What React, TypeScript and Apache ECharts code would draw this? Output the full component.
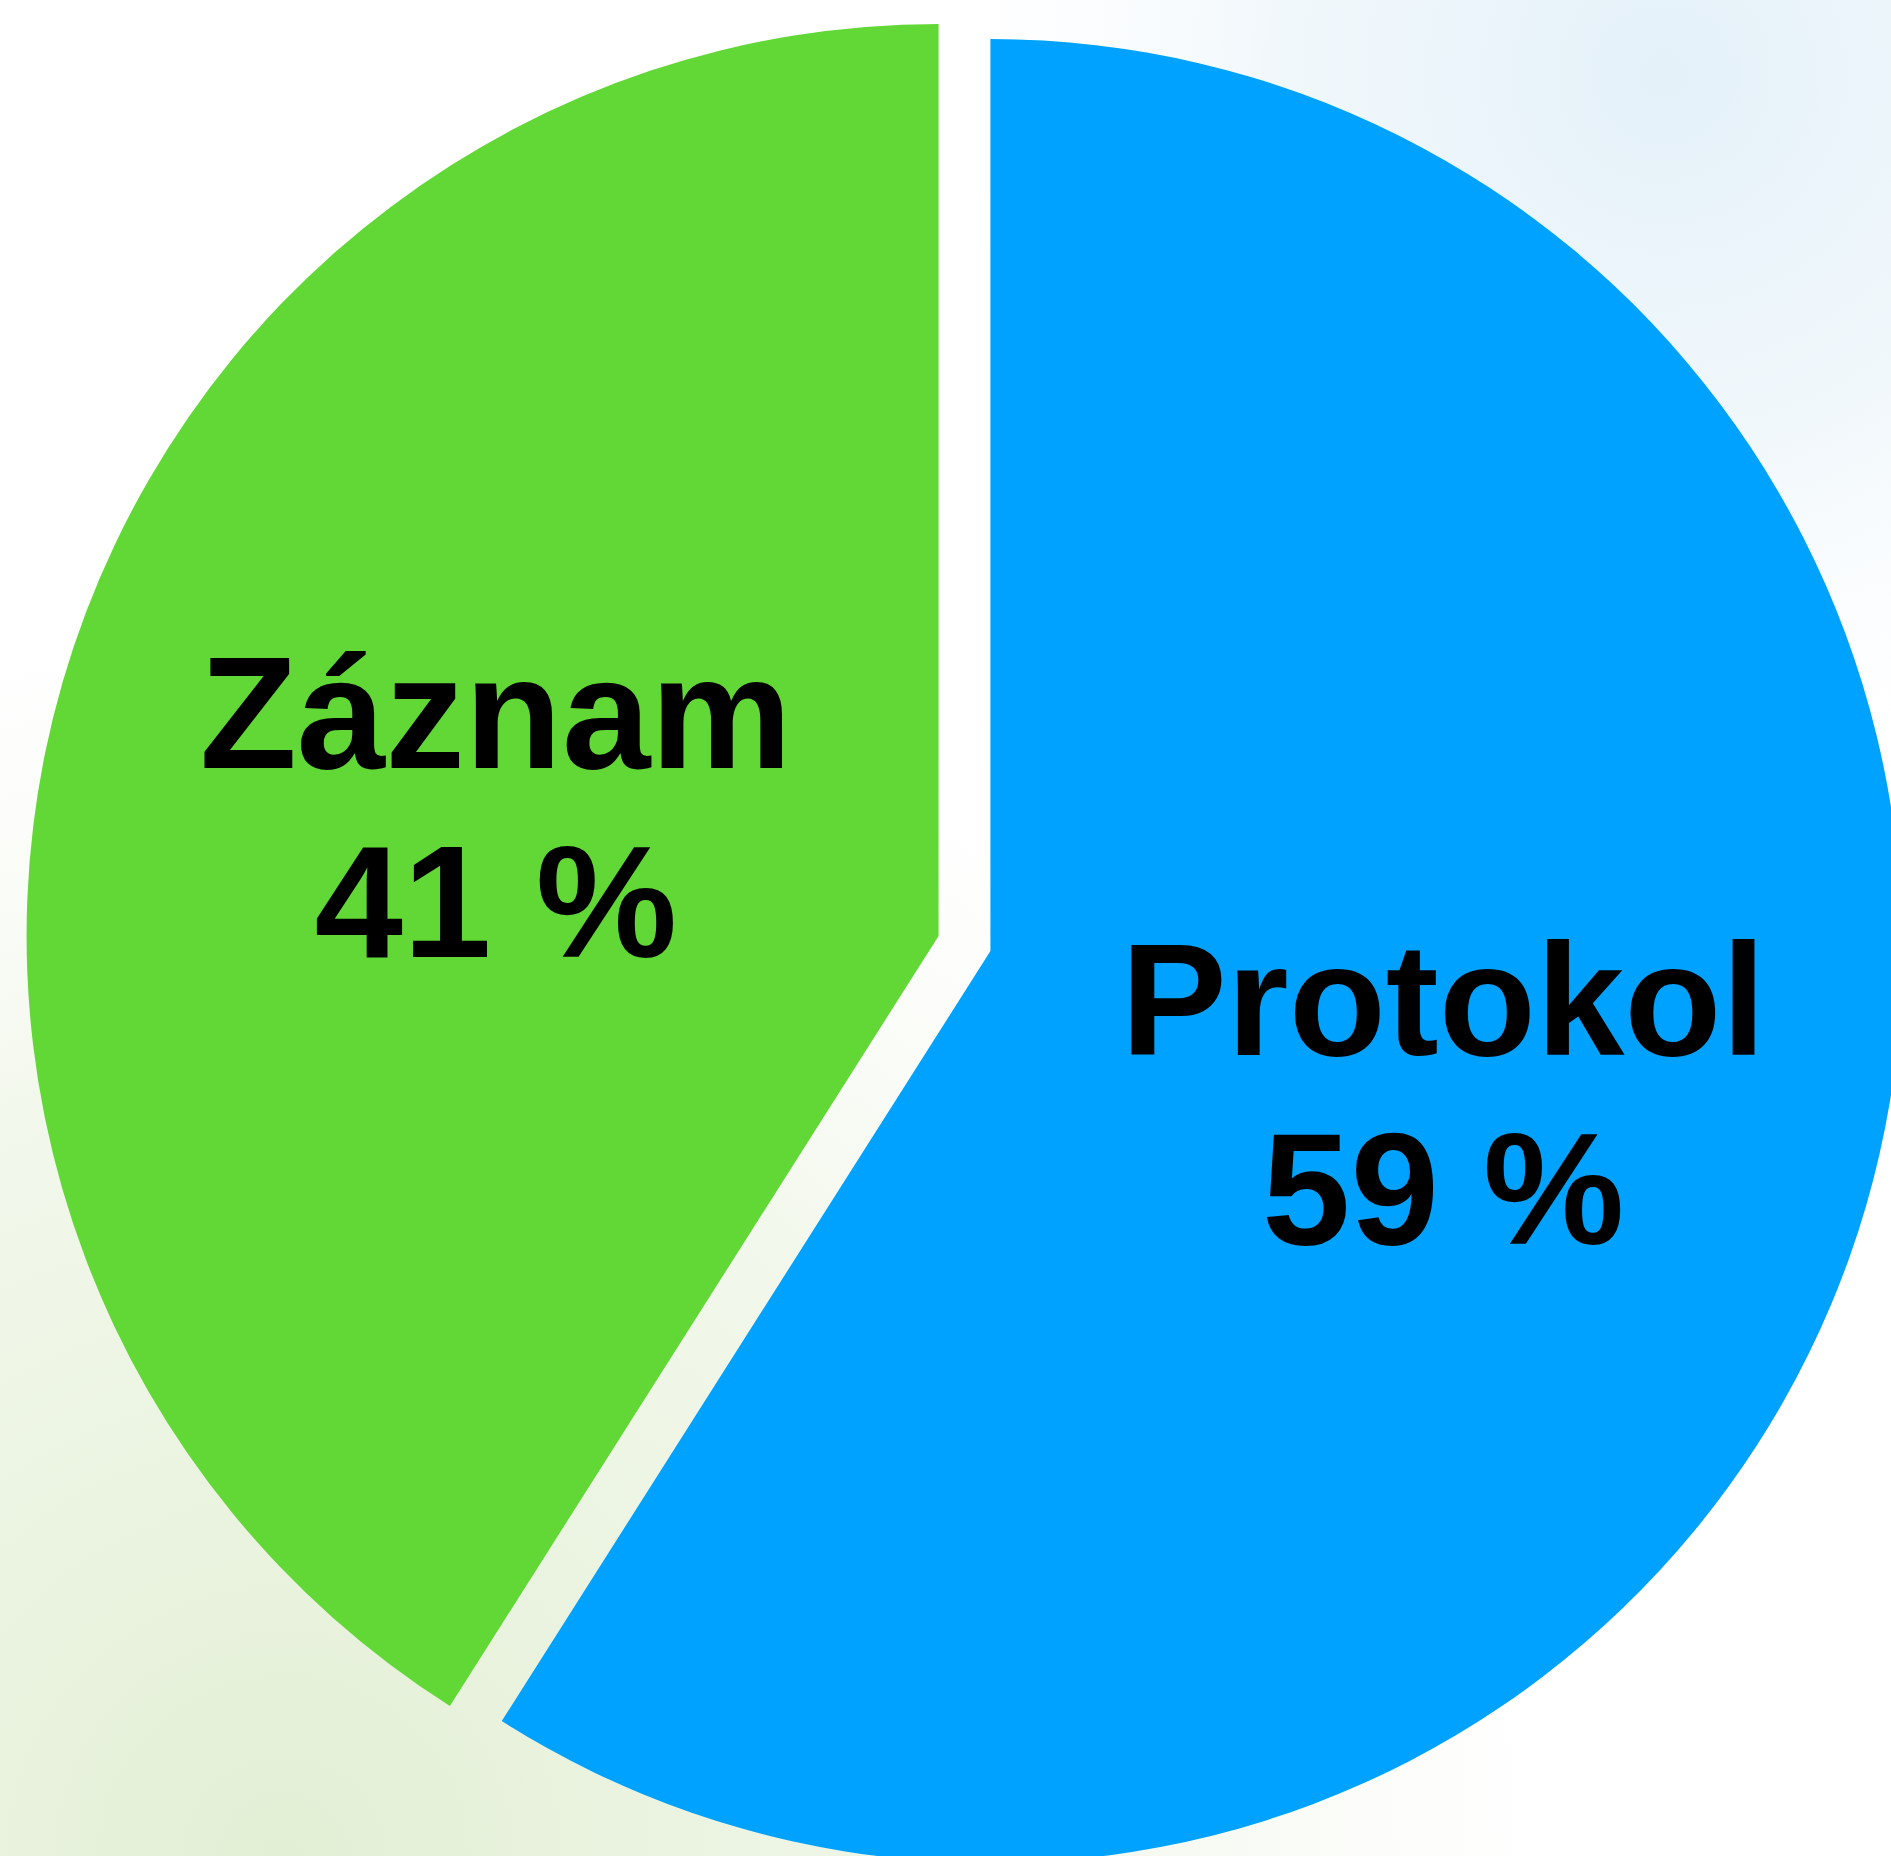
import React, { useEffect, useRef } from "react";
import * as echarts from "echarts";

const categories = ["Protokol", "Záznam"];
const values = [59, 41];
const colors = ["#00A2FF", "#62D836"];
const labelFormatters = ["{s| }\n{b}\n{c} %", "{b}\n{c} %"];
const labelPaddings = [[0, 0, 0, 24], [0, 4, 0, 0]];

export default function App() {
  const ref = useRef<HTMLDivElement>(null);
  useEffect(() => {
    if (!ref.current) return;
    const chart = echarts.init(ref.current, null, { renderer: "svg" });
    chart.setOption({
      animation: false,
      backgroundColor: "#ffffff",
      graphic: [
        {
          type: "rect",
          z: -10,
          silent: true,
          shape: { x: 0, y: 0, width: 1891, height: 1856 },
          style: {
            fill: {
              type: "radial",
              x: 0.15,
              y: 1.0,
              r: 0.75,
              colorStops: [
                { offset: 0, color: "rgba(226,239,212,1)" },
                { offset: 0.55, color: "rgba(236,244,226,0.7)" },
                { offset: 1, color: "rgba(255,255,255,0)" },
              ],
            },
          },
        },
        {
          type: "rect",
          z: -10,
          silent: true,
          shape: { x: 0, y: 0, width: 1891, height: 1856 },
          style: {
            fill: {
              type: "radial",
              x: 0.88,
              y: 0.04,
              r: 0.42,
              colorStops: [
                { offset: 0, color: "rgba(226,240,248,0.95)" },
                { offset: 0.5, color: "rgba(232,243,249,0.6)" },
                { offset: 1, color: "rgba(255,255,255,0)" },
              ],
            },
          },
        },
      ],
      series: [
        {
          type: "pie",
          center: [964.5, 943.5],
          radius: 912,
          startAngle: 90,
          clockwise: true,
          selectedMode: "multiple",
          selectedOffset: 27,
          avoidLabelOverlap: false,
          emphasis: { disabled: true },
          itemStyle: { borderWidth: 0 },
          labelLine: { show: false },
          label: {
            show: true,
            position: "inside",
            formatter: "{b}\n{c} %",
            color: "#000000",
            fontSize: 159,
            fontWeight: "bold",
            fontFamily: "Liberation Sans, Arial, Helvetica, sans-serif",
            lineHeight: 189,
            textBorderWidth: 0,
            rich: {
              s: { fontSize: 2, lineHeight: 30 },
            },
          },
          data: categories.map((name, i) => ({
            name,
            value: values[i],
            selected: true,
            itemStyle: { color: colors[i] },
            label: { padding: labelPaddings[i], formatter: labelFormatters[i] },
          })),
        },
      ],
    });
    return () => chart.dispose();
  }, []);
  return (
    <div
      ref={ref}
      style={{ position: "absolute", left: 0, top: 0, width: 1891, height: 1856 }}
    />
  );
}
